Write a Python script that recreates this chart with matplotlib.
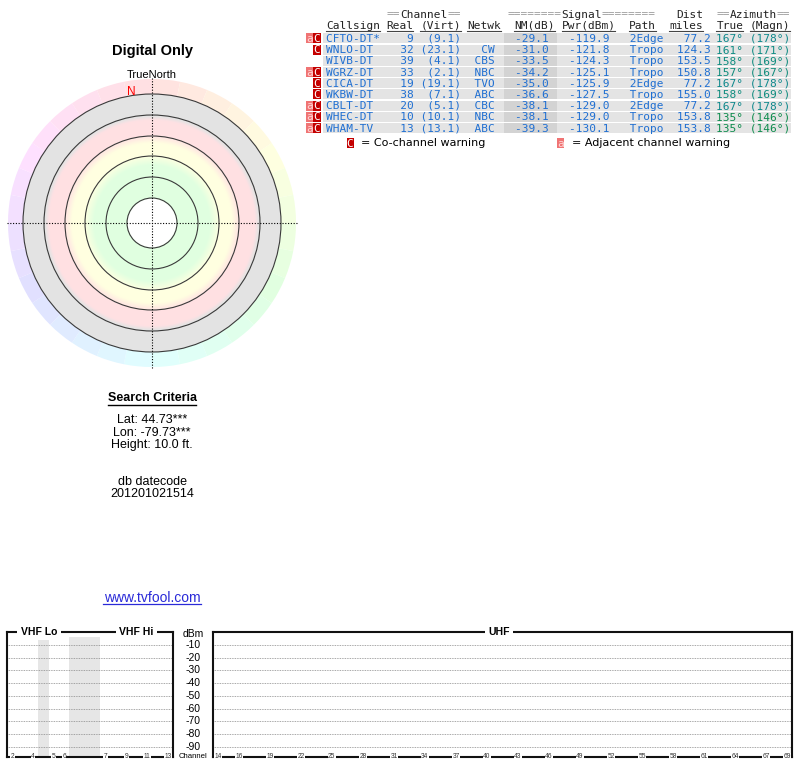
import colorsys

import matplotlib
matplotlib.use("Agg")
import matplotlib.pyplot as plt
import numpy as np
from matplotlib.patches import Circle, Rectangle, Wedge

W, H = 800, 768

# station table
callsigns = ["CFTO-DT*", "WNLO-DT", "WIVB-DT", "WGRZ-DT", "CICA-DT",
             "WKBW-DT", "CBLT-DT", "WHEC-DT", "WHAM-TV"]
real_ch = [9, 32, 39, 33, 19, 38, 20, 10, 13]
virt_ch = ["9.1", "23.1", "4.1", "2.1", "19.1", "7.1", "5.1", "10.1", "13.1"]
networks = ["", "CW", "CBS", "NBC", "TVO", "ABC", "CBC", "NBC", "ABC"]
nm_db = [-29.1, -31.0, -33.5, -34.2, -35.0, -36.6, -38.1, -38.1, -39.3]
pwr_dbm = [-119.9, -121.8, -124.3, -125.1, -125.9, -127.5, -129.0, -129.0, -130.1]
paths = ["2Edge", "Tropo", "Tropo", "Tropo", "2Edge", "Tropo", "2Edge", "Tropo", "Tropo"]
dist_miles = [77.2, 124.3, 153.5, 150.8, 77.2, 155.0, 77.2, 153.8, 153.8]
az_true = [167, 161, 158, 157, 167, 158, 167, 135, 135]
az_magn = [178, 171, 169, 167, 178, 169, 178, 146, 146]
adj_warn = [True, False, False, True, False, False, True, True, True]
co_warn = [True, True, False, True, True, True, True, True, True]
mag_declination = -11

# search criteria
criteria = ["Lat: 44.73***", "Lon: -79.73***", "Height: 10.0 ft."]
datecode = "201201021514"

# spectrum chart (None = gap in the VHF band plan)
vhf_layout = [2, 3, 4, None, 5, 6, None, None, None, 7, 8, 9, 10, 11, 12, 13]
vhf_ticks = [2, 4, 5, 6, 7, 9, 11, 13]
uhf_first, uhf_last = 14, 69
uhf_ticks = [14, 16, 19, 22, 25, 28, 31, 34, 37, 40, 43, 46, 49, 52, 55,
             58, 61, 64, 67, 69]
dbm_ticks = [-10, -20, -30, -40, -50, -60, -70, -80, -90]

SANS = "Liberation Sans"
MONO = "DejaVu Sans Mono"
BLUE = "#1f6fd2"

fig = plt.figure(figsize=(W / 100, H / 100), dpi=100, facecolor="white")


def px_axes(x0, y0, x1, y1):
    return fig.add_axes([x0 / W, 1 - y1 / H, (x1 - x0) / W, (y1 - y0) / H])


# canvas in pixel coordinates for the table and the loose texts
cv = fig.add_axes([0, 0, 1, 1])
cv.set_xlim(0, W)
cv.set_ylim(H, 0)
cv.axis("off")

# ---- left column texts
cv.text(152, 51, "Digital Only", family=SANS, weight="bold", fontsize=10.5,
        ha="center", va="center")
cv.text(152, 74.5, "TrueNorth", family=SANS, fontsize=8, ha="center", va="center")
cv.text(152, 398, "Search Criteria", family=SANS, weight="bold", fontsize=9,
        ha="center", va="center")
cv.plot([108, 196], [405, 405], color="black", lw=1)
for i, line in enumerate(criteria):
    cv.text(152, 420 + 12.5 * i, line, family=SANS, fontsize=9, ha="center", va="center")
cv.text(152, 482, "db datecode", family=SANS, fontsize=9, ha="center", va="center")
cv.text(152, 494, datecode, family=SANS, fontsize=9, ha="center", va="center")
cv.text(152, 598, "www.tvfool.com", family=SANS, fontsize=10, color="#2a2ad8",
        ha="center", va="center")
cv.plot([103, 201], [604, 604], color="#2a2ad8", lw=0.9)

# ---- station table
x0, cw = 326.0, 6.73
row_y0, row_dy = 38.3, 11.2
FS = 8.05


def col_x(c):
    return x0 + c * cw


def header_group(col, s, y):
    start = 0
    while start < len(s):
        eq = s[start] == "="
        end = start
        while end < len(s) and (s[end] == "=") == eq:
            end += 1
        cv.text(col_x(col + start), y, s[start:end], family=MONO, fontsize=FS,
                color="#9a9a9a" if eq else "#222222", va="baseline")
        start = end


for col, s in [(9, "==Channel=="), (27, "========Signal========"),
               (52, "Dist"), (58, "==Azimuth==")]:
    header_group(col, s, 17.5)

for col, s in [(0, "Callsign"), (9, "Real"), (14, "(Virt)"), (21, "Netwk"),
               (28, "NM(dB)"), (35, "Pwr(dBm)"), (45, "Path"), (51, "miles"),
               (58, "True"), (63, "(Magn)")]:
    cv.text(col_x(col), 29, s, family=MONO, fontsize=FS, color="#222222", va="baseline")
    cv.plot([col_x(col), col_x(col + len(s))], [31.2, 31.2], color="#444444", lw=0.8)

for i in range(len(callsigns)):
    yc = row_y0 + row_dy * i
    cv.add_patch(Rectangle((323, yc - 5), 468, 10, fc="#e4e4e4", ec="none"))
    cv.add_patch(Rectangle((504, yc - 5), 53, 10, fc="#d3d3d3", ec="none"))
    if adj_warn[i]:
        cv.add_patch(Rectangle((305.5, yc - 5), 7.5, 10, fc="#f07474", ec="none"))
        cv.text(309.2, yc + 3.6, "a", family=MONO, fontsize=FS, color="#ffd6d6",
                ha="center", va="baseline")
    if co_warn[i]:
        cv.add_patch(Rectangle((313, yc - 5), 7.5, 10, fc="#c40000", ec="none"))
        cv.text(316.8, yc + 3.6, "C", family=MONO, fontsize=FS, color="white",
                ha="center", va="baseline")
    virt = "(" + virt_ch[i] + ")"
    line = (f"{callsigns[i]:<8} {real_ch[i]:>4} {virt:>6} {networks[i]:>4}  "
            f"{nm_db[i]:>6.1f} {pwr_dbm[i]:>8.1f} {paths[i]:>7}{dist_miles[i]:>7.1f}")
    cv.text(col_x(0), yc + 3.6, line, family=MONO, fontsize=FS, color=BLUE, va="baseline")
    # azimuth text is tinted by its bearing
    az_col = colorsys.hsv_to_rgb(((az_true[i] + 15) % 360) / 360, 0.9, 0.55)
    cv.text(col_x(58), yc + 3.6, f"{az_true[i]}° ({az_magn[i]}°)", family=MONO,
            fontsize=FS, color=az_col, va="baseline")

# legend
cv.add_patch(Rectangle((346.5, 138), 7, 10, fc="#c40000", ec="none"))
cv.text(350, 146.6, "C", family=MONO, fontsize=FS, color="white", ha="center", va="baseline")
cv.text(361, 143, "= Co-channel warning", family="DejaVu Sans", fontsize=8, va="center")
cv.add_patch(Rectangle((557, 138), 7, 10, fc="#f07474", ec="none"))
cv.text(560.5, 146.6, "a", family=MONO, fontsize=FS, color="#ffd6d6", ha="center", va="baseline")
cv.text(571.5, 143, "= Adjacent channel warning", family="DejaVu Sans", fontsize=8, va="center")

# ---- polar radar plot
ax_p = px_axes(2, 73, 302, 373)
ax_p.set_xlim(-150, 150)
ax_p.set_ylim(-150, 150)
ax_p.set_aspect("equal")
ax_p.axis("off")

green, yellow, pink, gray = (0.88, 1.0, 0.88), (1.0, 1.0, 0.88), (1.0, 0.88, 0.89), (0.894, 0.894, 0.894)
stop_r = [25, 58, 68, 80, 88, 103, 107, 129]
stop_c = [green, green, yellow, yellow, pink, pink, gray, gray]
g = np.linspace(-129, 129, 520)
xx, yy = np.meshgrid(g, g)
rr = np.hypot(xx, yy)
img = np.ones((g.size, g.size, 4))
for k in range(3):
    img[..., k] = np.interp(rr, stop_r, [c[k] for c in stop_c])
img[..., 3] = ((rr <= 129.5) & (rr >= 24.5)).astype(float)
ax_p.imshow(img, extent=[-129, 129, -129, 129], origin="lower", interpolation="bilinear", zorder=1)

n_seg = 32
for k in range(n_seg):
    a0 = k * 360 / n_seg
    col = colorsys.hsv_to_rgb((a0 + 180 / n_seg) / 360, 0.12, 1.0)
    ax_p.add_patch(Wedge((0, 0), 144, 90 - a0 - 360 / n_seg, 90 - a0, width=15,
                         fc=col, ec="none", zorder=1))

for r in [25, 46, 67, 87, 108, 129]:
    ax_p.add_patch(Circle((0, 0), r, fill=False, ec="#3a3a3a", lw=0.8, zorder=2))
ax_p.plot([-145, 145], [0, 0], color="black", lw=0.8, ls=(0, (1, 1.5)), zorder=3)
ax_p.plot([0, 0], [-145, 145], color="black", lw=0.8, ls=(0, (1, 1.5)), zorder=3)
ang = np.deg2rad(90 - mag_declination)
ax_p.text(133 * np.cos(ang), 133 * np.sin(ang), "N", color="red", family=SANS,
          fontsize=8.5, ha="left", va="center", zorder=4)

# ---- spectrum chart
ax_v = px_axes(7, 632, 173, 757)
ax_u = px_axes(213, 632, 792, 757)
n_uhf = uhf_last - uhf_first + 1
for ax, n in [(ax_v, len(vhf_layout)), (ax_u, n_uhf)]:
    ax.set_xlim(0, n)
    ax.set_ylim(-98, 0)
    ax.set_xticks([])
    ax.set_yticks([])
    for sp in ax.spines.values():
        sp.set_color("#111111")
        sp.set_linewidth(1.5)
    for v in dbm_ticks:
        ax.axhline(v, color="#8a8a8a", lw=0.6, ls=(0, (1, 1)), zorder=1)

for i, ch in enumerate(vhf_layout):
    if ch is None:
        ax_v.axvspan(i, i + 1, ymax=0.96, color="#e6e6e6", lw=0, zorder=0)

tick_kw = dict(fontsize=4.8, color="#333333", family=SANS, ha="center", va="center",
               zorder=5, clip_on=False, bbox=dict(fc="white", ec="none", pad=0.4))
for ch in vhf_ticks:
    ax_v.text(vhf_layout.index(ch) + 0.5, -98, str(ch), **tick_kw)
for ch in uhf_ticks:
    ax_u.text(ch - uhf_first + 0.5, -98, str(ch), **tick_kw)

title_kw = dict(family=SANS, weight="bold", fontsize=7.5, ha="center", va="center",
                zorder=5, clip_on=False, bbox=dict(fc="white", ec="none", pad=2.5))
for ax, xf, label in [(ax_v, 0.193, "VHF Lo"), (ax_v, 0.78, "VHF Hi"), (ax_u, 0.494, "UHF")]:
    ax.text(xf, 1.0, label, transform=ax.transAxes, **title_kw)

ytr = ax_u.get_yaxis_transform()
lab_x = (193 - 213) / (792 - 213)
ax_u.text(lab_x, -1.2, "dBm", transform=ytr, family=SANS, fontsize=7.5, ha="center", va="center")
for v in dbm_ticks:
    ax_u.text(lab_x, v, str(v), transform=ytr, family=SANS, fontsize=7.5, ha="center", va="center")
ax_u.text(lab_x, -98, "Channel", transform=ytr, family=SANS, fontsize=5.6, ha="center",
          va="center", clip_on=False)

fig.savefig("out.png", dpi=100, facecolor="white")
